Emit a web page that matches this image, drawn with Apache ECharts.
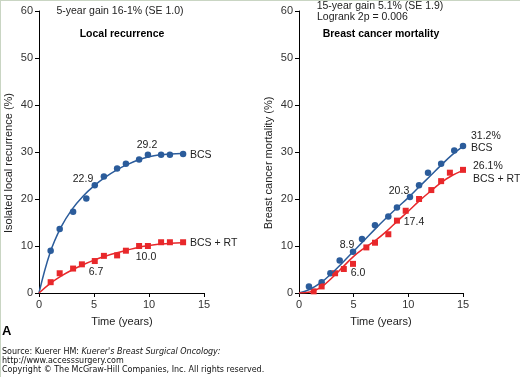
<!DOCTYPE html>
<html>
<head>
<meta charset="utf-8">
<script src="https://cdn.jsdelivr.net/npm/echarts@6/dist/echarts.min.js"></script>
<style>
    html, body { margin: 0; padding: 0; background: #fff; }
    #main { width: 519px; height: 376px; border-top: 1px solid #c9d5c3; border-left: 1px solid #c9d5c3; }
</style>
</head>
<body>
<div id="main"></div>
<script>
// left panel: local recurrence
const lrBcsYears = [1.06, 1.88, 3.1, 4.3, 5.07, 5.9, 7.1, 7.9, 9.1, 9.9, 11.1, 11.9, 13.1]
const lrBcs = [9.0, 13.6, 17.3, 20.1, 22.9, 24.8, 26.5, 27.5, 28.4, 29.4, 29.4, 29.4, 29.6]
const lrRtYears = [1.06, 1.88, 3.1, 3.9, 5.07, 5.9, 7.1, 7.9, 9.1, 9.9, 11.1, 11.9, 13.1]
const lrRt = [2.3, 4.2, 5.2, 6.1, 6.8, 7.9, 8.0, 9.0, 10.0, 10.0, 10.8, 10.8, 10.8]
const lrFitYears = [0, 1, 2, 3, 4, 5, 6, 7, 8, 9, 10, 11, 12, 13]
const lrBcsFit = [0, 8.5, 14.0, 17.8, 20.6, 22.8, 24.6, 26.1, 27.3, 28.3, 29.0, 29.4, 29.6, 29.7]
const lrRtFit = [0, 2.0, 3.6, 4.9, 6.0, 7.0, 7.8, 8.5, 9.1, 9.7, 10.1, 10.4, 10.6, 10.7]

// right panel: breast cancer mortality
const bcmBcsYears = [0.91, 2.07, 2.87, 3.72, 4.94, 5.76, 6.95, 8.17, 8.96, 10.15, 10.98, 11.8, 13.0, 14.2, 15.0]
const bcmBcs = [1.4, 2.3, 4.2, 6.9, 8.8, 11.5, 14.4, 16.3, 18.2, 20.4, 22.9, 25.6, 27.5, 30.3, 31.3]
const bcmRtYears = [1.34, 2.07, 3.3, 4.1, 4.94, 6.16, 6.95, 8.17, 8.96, 9.76, 10.98, 12.1, 13.0, 13.8, 15.0]
const bcmRt = [0.35, 1.4, 4.2, 5.1, 6.2, 9.7, 10.7, 12.5, 15.4, 17.5, 20.0, 21.9, 23.8, 25.6, 26.2]
const bcmFitYears = [0, 1, 2, 3, 4, 5, 6, 7, 8, 9, 10, 11, 12, 13, 14, 15]
const bcmBcsFit = [0, 0.8, 2.2, 4.2, 6.5, 8.9, 11.3, 13.7, 16.0, 18.2, 20.3, 22.6, 24.9, 27.2, 29.4, 31.2]
const bcmRtFit = [0, 0.2, 1.2, 3.2, 5.5, 7.8, 9.6, 11.2, 13.1, 15.3, 17.4, 19.6, 21.6, 23.5, 25.0, 26.1]

const blue = '#2b5c9b'
const red = '#e8282b'
const font = 'Liberation Sans, Arial, sans-serif'
const smallFont = '8px DejaVu Sans'

const zip = (xs, ys) => xs.map((x, i) => [x, ys[i]])

function xAxis(idx) {
    return {
        type: 'value', gridIndex: idx, min: 0, max: 15, interval: 5,
        axisLine: { lineStyle: { color: '#000', width: 1 } },
        axisTick: { show: true, length: 4, lineStyle: { color: '#000' } },
        axisLabel: { color: '#333', fontSize: 11, fontFamily: font, margin: 6 },
        splitLine: { show: false }
    }
}
function yAxis(idx) {
    return {
        type: 'value', gridIndex: idx, min: 0, max: 60, interval: 10,
        axisLine: { show: true, lineStyle: { color: '#000', width: 1 } },
        axisTick: { show: true, length: 4, lineStyle: { color: '#000' } },
        axisLabel: { color: '#333', fontSize: 11, fontFamily: font, margin: 6 },
        splitLine: { show: false }
    }
}
function fitLine(idx, xs, ys, color) {
    return {
        type: 'line', xAxisIndex: idx, yAxisIndex: idx, smooth: 0.4, symbol: 'none',
        lineStyle: { color: color, width: 1.5 }, data: zip(xs, ys), silent: true
    }
}
function marks(idx, xs, ys, color, sym) {
    return {
        type: 'scatter', xAxisIndex: idx, yAxisIndex: idx, symbol: sym,
        symbolSize: sym === 'rect' ? 6 : 6.5, itemStyle: { color: color, opacity: 1 },
        data: zip(xs, ys), silent: true
    }
}
function txt(x, y, text, opt) {
    return {
        type: 'text', x: x, y: y,
        style: Object.assign({ text: text, fill: '#222', font: '10.5px ' + font,
            textAlign: 'center', textVerticalAlign: 'middle' }, opt || {})
    }
}
function vtxt(x, y, text) {
    let t = txt(x, y, text, { font: '11px ' + font })
    t.rotation = Math.PI / 2
    return t
}

const chart = echarts.init(document.getElementById('main'))
chart.setOption({
    animation: false,
    grid: [
        { left: 38, top: 10, width: 165, height: 282 },
        { left: 298, top: 10, width: 164, height: 282 }
    ],
    xAxis: [xAxis(0), xAxis(1)],
    yAxis: [yAxis(0), yAxis(1)],
    series: [
        fitLine(0, lrFitYears, lrBcsFit, blue),
        fitLine(0, lrFitYears, lrRtFit, red),
        marks(0, lrBcsYears, lrBcs, blue, 'circle'),
        marks(0, lrRtYears, lrRt, red, 'rect'),
        fitLine(1, bcmFitYears, bcmBcsFit, blue),
        fitLine(1, bcmFitYears, bcmRtFit, red),
        marks(1, bcmBcsYears, bcmBcs, blue, 'circle'),
        marks(1, bcmRtYears, bcmRt, red, 'rect')
    ],
    graphic: [
        // left panel
        txt(119, 10, '5-year gain 16-1% (SE 1.0)'),
        txt(121, 33, 'Local recurrence', { font: 'bold 10.5px ' + font, fill: '#000' }),
        vtxt(8, 162, 'Isolated local recurrence (%)'),
        txt(146, 144, '29.2'),
        txt(82, 178, '22.9'),
        txt(189, 154, 'BCS', { textAlign: 'left' }),
        txt(189, 242, 'BCS + RT', { textAlign: 'left' }),
        txt(95, 271, '6.7'),
        txt(145, 256, '10.0'),
        txt(121, 321, 'Time (years)', { font: '11px ' + font }),
        // right panel
        txt(379, 5, '15-year gain 5.1% (SE 1.9)'),
        txt(316, 16, 'Logrank 2p = 0.006', { textAlign: 'left' }),
        txt(380, 33, 'Breast cancer mortality', { font: 'bold 10.5px ' + font, fill: '#000' }),
        vtxt(268, 162, 'Breast cancer mortality (%)'),
        txt(470, 135, '31.2%', { textAlign: 'left' }),
        txt(470, 147, 'BCS', { textAlign: 'left' }),
        txt(472, 165, '26.1%', { textAlign: 'left' }),
        txt(472, 178, 'BCS + RT', { textAlign: 'left' }),
        txt(398, 190, '20.3'),
        txt(413, 221, '17.4'),
        txt(346, 244, '8.9'),
        txt(357, 272, '6.0'),
        txt(380, 321, 'Time (years)', { font: '11px ' + font }),
        // footer
        txt(1, 330, 'A', { textAlign: 'left', font: 'bold 13px ' + font, fill: '#000' }),
        txt(1, 351, 'Source: Kuerer HM: {i|Kuerer\'s Breast Surgical Oncology:}', {
            textAlign: 'left', font: smallFont, fill: '#111',
            rich: { i: { font: 'italic ' + smallFont, fill: '#111' } }
        }),
        txt(1, 360, 'http://www.accesssurgery.com', { textAlign: 'left', font: smallFont, fill: '#111' }),
        txt(1, 369, 'Copyright \u00a9 The McGraw-Hill Companies, Inc. All rights reserved.', { textAlign: 'left', font: smallFont, fill: '#111' })
    ]
})
</script>
</body>
</html>
